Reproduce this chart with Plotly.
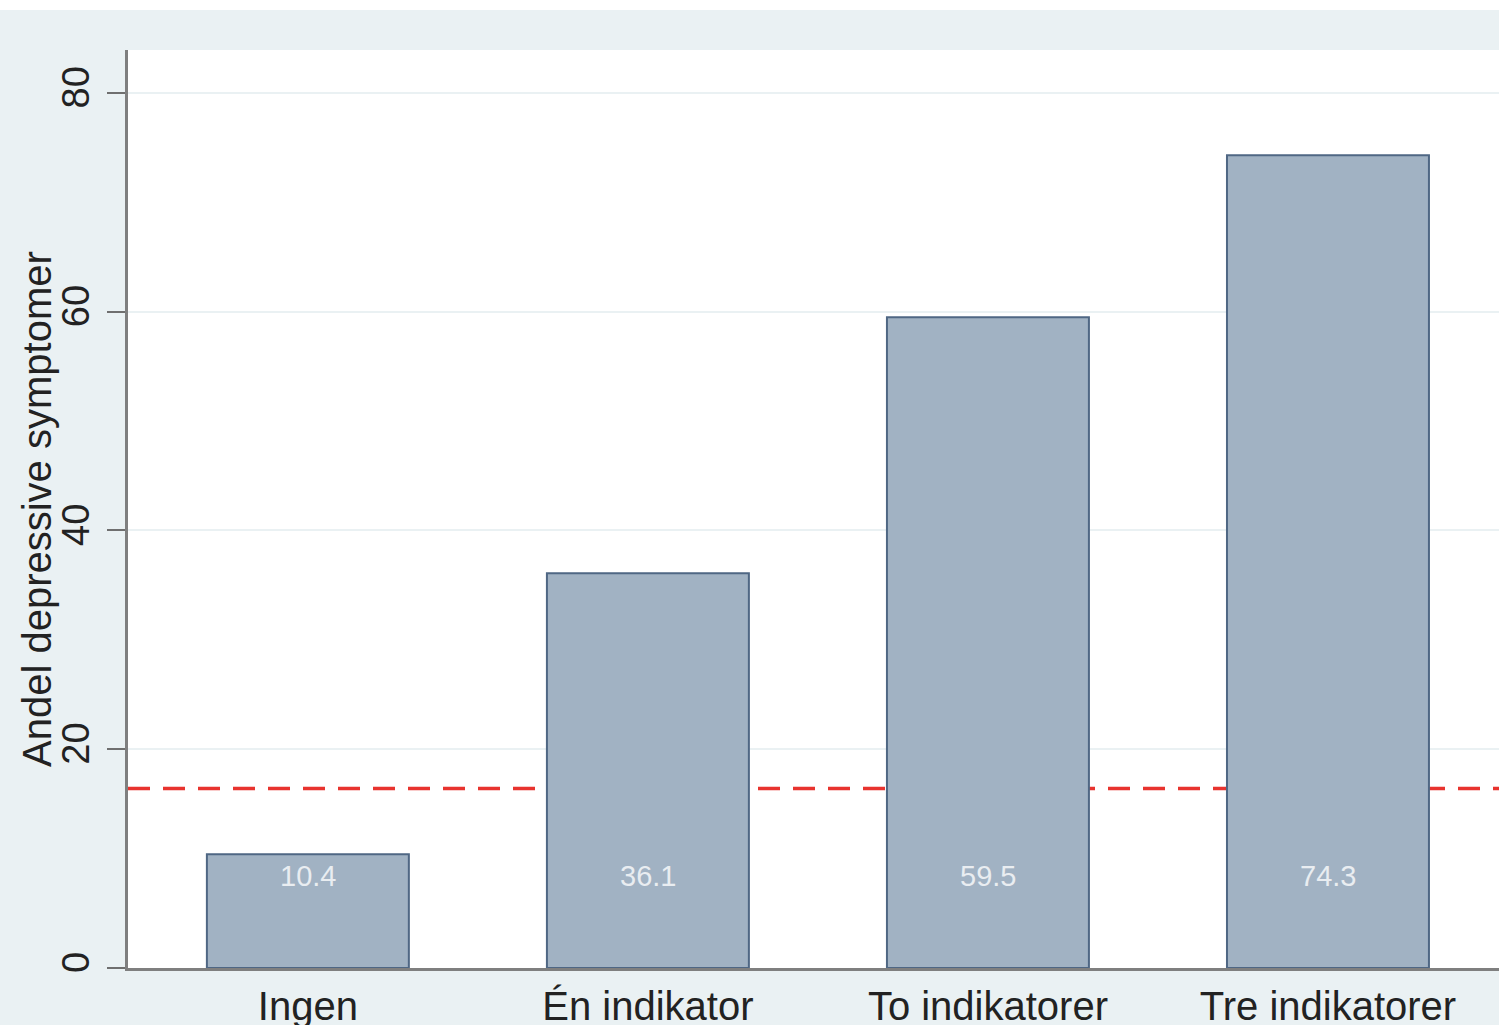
import plotly.graph_objects as go

categories = ["Ingen", "Én indikator", "To indikatorer", "Tre indikatorer"]
values = [10.4, 36.1, 59.5, 74.3]
value_labels = ["10.4", "36.1", "59.5", "74.3"]
reference_line = 16.4
y_ticks = [0, 20, 40, 60, 80]
y_title = "Andel depressive symptomer"

FONT = "Arial, Liberation Sans, sans-serif"
W, H = 1499, 1025
L, R, T, B = 128, 0, 50, 57
plot_w = W - L - R
plot_h = H - T - B

x_idx = list(range(len(categories)))

fig = go.Figure()
fig.add_trace(go.Bar(
    x=x_idx, y=values, width=0.594,
    marker=dict(color="#A1B2C3", line=dict(color="#4F6784", width=2)),
    hoverinfo="skip", showlegend=False,
))

for xi, v, lab in zip(x_idx, values, value_labels):
    fig.add_annotation(x=xi, y=8.4, text=lab, showarrow=False,
                       font=dict(family=FONT, size=29, color="#E9EDF1"),
                       xanchor="center", yanchor="middle")

# y-axis title as rotated annotation
fig.add_annotation(xref="paper", yref="paper", x=(37 - L) / plot_w, y=0.5,
                   text=y_title, textangle=-90, showarrow=False,
                   font=dict(family=FONT, size=40, color="#222222"),
                   xanchor="center", yanchor="middle")

fig.add_shape(type="line", xref="paper", x0=0, x1=1, yref="y",
              y0=reference_line, y1=reference_line, layer="below",
              line=dict(color="#E8332E", width=3.5, dash="22px,13px"))

# white strip at very top of the image
top_strip = 1 + (T - 10) / plot_h
fig.add_shape(type="rect", xref="paper", yref="paper", x0=-0.2, x1=1.1,
              y0=top_strip, y1=1.2, fillcolor="white", line=dict(width=0),
              layer="below")

fig.update_layout(
    width=W, height=H,
    margin=dict(l=L, r=R, t=T, b=B, pad=0, autoexpand=False),
    paper_bgcolor="#EAF1F3",
    plot_bgcolor="white",
    font=dict(family=FONT, color="#222222"),
    bargap=0.4,
)
fig.update_xaxes(
    range=[-0.529, 3.503], automargin=False,
    tickmode="array", tickvals=x_idx, ticktext=categories,
    tickfont=dict(size=40, color="#222222"),
    ticks="", showgrid=False, zeroline=False,
    showline=True, linecolor="#7F7F7F", linewidth=3,
    ticklabelstandoff=1,
)
fig.update_yaxes(
    range=[0, 83.93], automargin=False,
    tickmode="array", tickvals=y_ticks, ticktext=[str(t) for t in y_ticks],
    tickangle=-90,
    tickfont=dict(size=38, color="#222222"),
    ticks="outside", ticklen=18, tickwidth=2, tickcolor="#6F6F6F",
    showgrid=True, gridcolor="#EAF1F3", gridwidth=2,
    zeroline=False,
    showline=True, linecolor="#7F7F7F", linewidth=3,
    ticklabelstandoff=3,
)

fig.write_html("out.html", config={"displayModeBar": False},
               post_script="document.body.style.margin='0';document.body.style.overflow='hidden';")
